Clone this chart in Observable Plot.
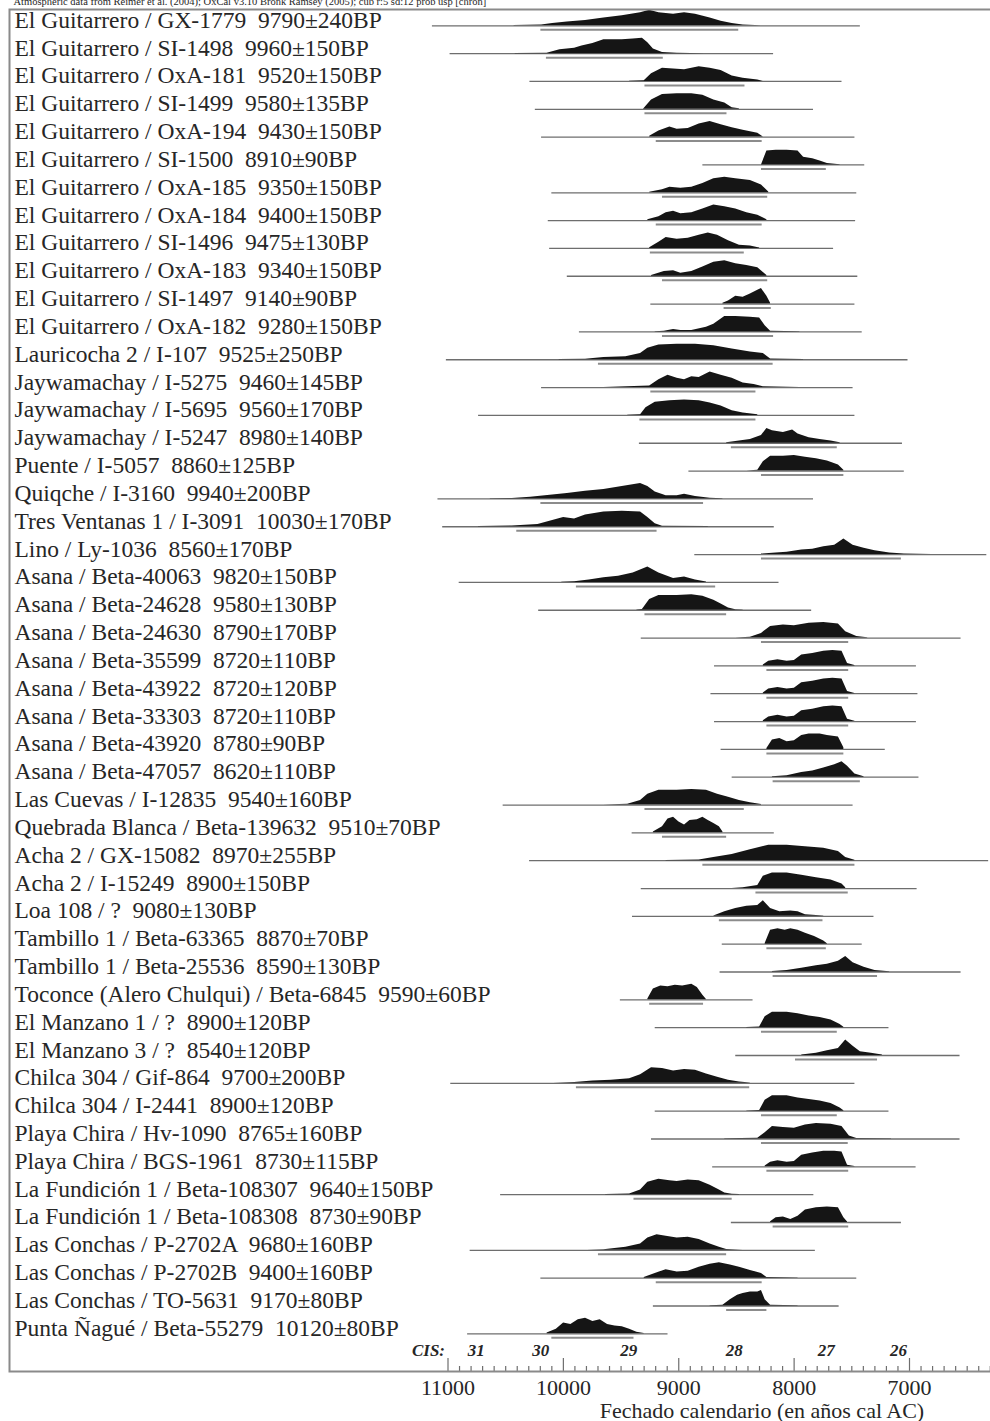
<!DOCTYPE html>
<html><head><meta charset="utf-8">
<script src="https://cdn.jsdelivr.net/npm/d3@7"></script>
<script src="https://cdn.jsdelivr.net/npm/@observablehq/plot@0.6"></script>
<style>
html,body{margin:0;padding:0;background:#fff;}
svg text{white-space:pre;}
</style></head><body><div id="chart"></div>
<script>
const header = "Atmospheric data from Reimer et al. (2004); OxCal v3.10 Bronk Ramsey (2005); cub r:5 sd:12 prob usp [chron]";
const xTitle = "Fechado calendario (en años cal AC)";
const labels = [
"El Guitarrero / GX-1779  9790±240BP","El Guitarrero / SI-1498  9960±150BP","El Guitarrero / OxA-181  9520±150BP",
"El Guitarrero / SI-1499  9580±135BP","El Guitarrero / OxA-194  9430±150BP","El Guitarrero / SI-1500  8910±90BP",
"El Guitarrero / OxA-185  9350±150BP","El Guitarrero / OxA-184  9400±150BP","El Guitarrero / SI-1496  9475±130BP",
"El Guitarrero / OxA-183  9340±150BP","El Guitarrero / SI-1497  9140±90BP","El Guitarrero / OxA-182  9280±150BP",
"Lauricocha 2 / I-107  9525±250BP","Jaywamachay / I-5275  9460±145BP","Jaywamachay / I-5695  9560±170BP",
"Jaywamachay / I-5247  8980±140BP","Puente / I-5057  8860±125BP","Quiqche / I-3160  9940±200BP",
"Tres Ventanas 1 / I-3091  10030±170BP","Lino / Ly-1036  8560±170BP","Asana / Beta-40063  9820±150BP",
"Asana / Beta-24628  9580±130BP","Asana / Beta-24630  8790±170BP","Asana / Beta-35599  8720±110BP",
"Asana / Beta-43922  8720±120BP","Asana / Beta-33303  8720±110BP","Asana / Beta-43920  8780±90BP",
"Asana / Beta-47057  8620±110BP","Las Cuevas / I-12835  9540±160BP","Quebrada Blanca / Beta-139632  9510±70BP",
"Acha 2 / GX-15082  8970±255BP","Acha 2 / I-15249  8900±150BP","Loa 108 / ?  9080±130BP",
"Tambillo 1 / Beta-63365  8870±70BP","Tambillo 1 / Beta-25536  8590±130BP","Toconce (Alero Chulqui) / Beta-6845  9590±60BP",
"El Manzano 1 / ?  8900±120BP","El Manzano 3 / ?  8540±120BP","Chilca 304 / Gif-864  9700±200BP",
"Chilca 304 / I-2441  8900±120BP","Playa Chira / Hv-1090  8765±160BP","Playa Chira / BGS-1961  8730±115BP",
"La Fundición 1 / Beta-108307  9640±150BP","La Fundición 1 / Beta-108308  8730±90BP","Las Conchas / P-2702A  9680±160BP",
"Las Conchas / P-2702B  9400±160BP","Las Conchas / TO-5631  9170±80BP","Punta Ñagué / Beta-55279  10120±80BP"];
// thin plotted range line (cal BC)
const lineFrom = [11135,10982,10290,10243,10189,8791,10100,10131,10119,9966,9242,9861,11014,10189,10735,9341,8912,11087,11046,8861,10903,10214,9325,8690,8721,8690,8633,8537,10522,9404,10293,9325,9401,8623,8642,9506,9204,8506,10976,9204,9236,8706,10544,8544,10808,10195,9220,10830];
const lineTo   = [7426,8178,7585,7832,7473,7388,7457,7467,7658,7448,7473,7410,7013,7489,7473,7061,7045,7832,8172,6330,8131,7848,6553,6940,6927,6940,7210,6918,7489,8172,6314,6934,7308,7410,6553,8356,7178,6562,7473,7178,6562,6943,7829,7070,7816,7457,7610,9093];
// 95.4% range bracket (cal BC)
const rangeFrom = [10195,10147,9293,9293,9195,8283,9141,9195,9246,9141,8607,9141,9696,9242,9337,8544,8283,10195,10404,8283,9887,9293,8283,8236,8236,8236,8236,8182,9293,9141,8791,8331,8648,8236,8182,9252,8283,7988,9887,8283,8283,8236,9388,8182,9696,9195,8585,10100];
const rangeTo   = [8480,9134,8426,8582,8277,7721,8229,8277,8432,8229,8198,8178,8182,8331,8331,7626,7569,8785,9188,7070,8680,8585,7527,7527,7527,7527,7569,7426,8432,8585,7473,7531,7750,7721,7277,8785,7626,7277,8385,7626,7531,7527,8537,7527,8585,8277,8236,9388];
// probability profiles: [cal BC, relative height 0-10]
const profiles = [
[[10427,0.2],[10189,0.5],[10093,1.5],[9966,2.5],[9808,3.5],[9649,5],[9490,6.5],[9331,8.5],[9252,10],[9172,8.5],[9045,7.5],[8950,8.5],[8855,7.5],[8728,5],[8633,3],[8537,1.5],[8442,0.5],[8283,0]],
[[10417,0.1],[10141,0.3],[10030,2.5],[9903,3.5],[9839,5],[9744,6.5],[9649,9],[9490,9],[9395,9.5],[9315,10],[9268,7],[9220,3],[9141,0.8],[9014,0.2],[8775,0]],
[[9426,0.1],[9299,0.5],[9236,5],[9141,8.5],[9045,8],[8950,7.5],[8823,9.5],[8728,8.5],[8633,7],[8537,3.5],[8442,2],[8315,1],[8267,0]],
[[9306,0],[9236,6],[9141,9.5],[9014,10],[8887,10],[8791,9],[8696,6],[8601,4],[8537,1],[8474,0.3]],
[[9252,0.5],[9172,4],[9077,6.5],[9014,5],[8918,5.5],[8823,8.5],[8728,10],[8633,8],[8537,6],[8442,4.5],[8315,2.5],[8267,0]],
[[8283,0],[8236,9],[8156,9.5],[8061,9.5],[7966,9],[7918,5],[7839,4],[7775,2.5],[7712,1],[7601,0.2]],
[[9252,0.3],[9141,2],[9077,3.5],[8982,3],[8887,3.5],[8791,6],[8696,9],[8601,10],[8506,9],[8379,8],[8283,5],[8220,0.5]],
[[9268,0.5],[9172,2.5],[9109,5],[9045,6],[8982,4.5],[8887,5],[8791,7.5],[8696,10],[8601,9],[8506,7.5],[8410,5],[8315,3.5],[8236,0.5]],
[[9252,0.5],[9172,4],[9109,7],[9014,6],[8918,6.5],[8823,8.5],[8744,10],[8664,8.5],[8569,5],[8474,2],[8379,1.5],[8299,0.3]],
[[9236,0.5],[9125,3],[9045,3.5],[8982,2],[8887,3],[8791,6],[8696,9],[8601,10],[8506,8],[8410,7],[8315,5.5],[8236,0.5]],
[[8617,0.5],[8569,2],[8506,5],[8442,4.5],[8379,6.5],[8315,9],[8283,10],[8236,5],[8204,0.5]],
[[9204,0.1],[9125,0.5],[9045,1.5],[8982,1],[8887,1],[8760,3],[8696,5],[8601,10],[8506,10],[8379,9.5],[8299,9],[8251,4],[8204,0.5],[7950,0.1]],
[[10036,0.1],[9808,0.3],[9649,1.5],[9458,2],[9331,4],[9268,7.5],[9172,9.5],[9014,10],[8855,10],[8696,9],[8537,7],[8379,5],[8267,4],[8204,0.5],[7918,0.1]],
[[9649,0.1],[9252,1],[9172,5],[9093,8],[9014,6],[8950,5],[8887,7],[8823,6.5],[8728,10],[8633,8],[8537,6],[8442,3],[8347,2],[8267,0.5],[7950,0.1]],
[[9442,0.1],[9331,0.5],[9284,5],[9204,8.5],[9077,9.5],[8950,10],[8823,9.5],[8728,8],[8633,6],[8537,3],[8442,1.5],[8315,0.5]],
[[8585,0.3],[8474,1.5],[8379,2.5],[8283,5],[8236,9.5],[8188,8],[8093,7],[8013,8.5],[7966,6],[7870,3.5],[7775,2.5],[7680,1.5],[7601,0.3]],
[[8410,0.1],[8315,0.5],[8267,6],[8204,9.5],[8093,9.5],[7998,10],[7902,9],[7807,8],[7712,6.5],[7616,4],[7569,0.5]],
[[10633,0.1],[10443,0.3],[10284,1],[10093,2.5],[9966,3.5],[9808,5],[9649,6],[9490,8],[9331,10],[9268,8],[9204,4.5],[9109,2],[9014,2],[8950,3],[8855,1.5],[8728,0.5],[8617,0.1]],
[[10735,0.1],[10443,0.5],[10220,1.5],[10093,4],[9998,6],[9903,5],[9808,7.5],[9649,9.5],[9490,10],[9331,9.5],[9268,6],[9204,2],[9141,0.3],[8744,0.1]],
[[8283,0.3],[8156,1],[8061,1.5],[7934,3],[7839,3.5],[7743,5],[7648,6],[7569,10],[7489,6],[7394,4],[7299,2.5],[7172,1],[7045,0.3],[6807,0.1]],
[[10014,0.1],[9903,0.5],[9776,1.5],[9649,3],[9522,4],[9395,6],[9268,10],[9172,6],[9045,2.5],[8950,3.5],[8855,1.5],[8760,0.3]],
[[9363,0.1],[9315,0.5],[9252,7],[9172,9.5],[9014,9.5],[8887,10],[8791,9],[8696,6.5],[8633,4],[8569,1.5],[8506,0.3],[8442,0.1]],
[[8506,0.1],[8379,0.5],[8283,3],[8204,7.5],[8093,8.5],[7998,8],[7870,9.5],[7743,10],[7616,9],[7553,4],[7457,1],[7362,0.2]],
[[8267,0.5],[8220,3],[8140,4],[8061,3],[7998,3.5],[7934,7],[7839,8],[7743,9.5],[7664,10],[7585,9.5],[7537,1.5],[7473,0.2]],
[[8267,0.5],[8220,3],[8140,4],[8061,3],[7998,3.5],[7934,7],[7839,8],[7743,9.5],[7664,10],[7585,9.5],[7537,1.5],[7473,0.2]],
[[8267,0.5],[8220,3],[8140,4],[8061,3],[7998,3.5],[7934,7],[7839,8],[7743,9.5],[7664,10],[7585,9.5],[7537,1.5],[7473,0.2]],
[[8236,0.5],[8188,6],[8124,7],[8061,5],[7998,5.5],[7934,9],[7870,10],[7775,10],[7712,9],[7616,8],[7569,1]],
[[8188,0.3],[8061,1],[7934,3],[7839,4],[7743,6],[7648,8],[7585,10],[7537,7],[7473,2],[7394,0.3]],
[[9649,0.1],[9442,0.5],[9331,3],[9268,7],[9172,9.5],[9014,9.5],[8887,10],[8760,9.5],[8664,7],[8569,5],[8474,3],[8379,1.5],[8283,0.3]],
[[9220,0.5],[9141,4],[9093,9],[9045,10],[8998,7],[8950,5],[8903,8],[8839,8.5],[8791,10],[8744,8],[8696,6],[8648,4],[8617,0.5]],
[[9109,0.1],[8823,0.5],[8696,2],[8537,4],[8379,7],[8220,10],[8061,10],[7902,9],[7743,8],[7616,6],[7553,2],[7473,0.3]],
[[8537,0.1],[8442,0.5],[8315,2],[8267,8],[8188,10],[8061,10],[7934,8.5],[7807,7],[7680,5.5],[7585,3],[7553,0.5]],
[[8696,0.3],[8601,3],[8506,5],[8410,6.5],[8315,7],[8267,10],[8204,5],[8124,3],[8029,3.5],[7966,3],[7902,1],[7743,0.2]],
[[8251,0.5],[8204,9],[8140,10],[8077,9],[8029,10],[7966,9],[7902,7],[7823,5],[7743,2],[7712,0.3]],
[[8188,0.3],[8061,1],[7934,2.5],[7807,4],[7712,5],[7616,7],[7553,10],[7489,6],[7394,3],[7299,1],[7172,0.2]],
[[9268,0.5],[9220,7],[9156,9],[9093,8.5],[9030,9.5],[8966,9],[8887,10],[8839,8],[8791,3],[8760,0.3]],
[[8410,0.1],[8299,0.5],[8251,7],[8188,10],[8061,10],[7966,9],[7870,7.5],[7775,6.5],[7680,5],[7601,2],[7569,0.3]],
[[7934,0.3],[7807,1.5],[7712,3],[7616,4.5],[7553,10],[7489,6],[7426,2.5],[7331,1.5],[7235,0.3]],
[[10084,0.1],[9903,0.5],[9744,1.5],[9585,2],[9426,3],[9331,5.5],[9236,10],[9141,9.5],[9045,8],[8950,9],[8855,8.5],[8760,6],[8664,4],[8569,2],[8474,0.8],[8379,0.3]],
[[8410,0.1],[8299,0.5],[8251,7],[8188,10],[8061,10],[7966,8.5],[7870,7.5],[7775,6.5],[7680,5],[7601,2],[7569,0.3]],
[[8601,0.1],[8315,0.5],[8251,4],[8188,8],[8093,7.5],[7998,7],[7902,9],[7807,10],[7680,9.5],[7585,8],[7521,2],[7457,0.3],[7156,0.1]],
[[8251,0.5],[8204,3],[8140,4],[8061,3],[7998,3.5],[7934,7.5],[7839,9],[7743,10],[7648,10],[7585,9.5],[7537,1],[7473,0.2]],
[[9633,0.1],[9426,0.5],[9331,3],[9268,8],[9172,10],[9077,9],[9014,8.5],[8918,9.5],[8823,9],[8728,6],[8648,3],[8601,1],[8537,0.3],[8474,0.1]],
[[8204,0.5],[8156,3],[8093,3.5],[8029,2],[7966,4],[7902,8],[7807,9.5],[7712,10],[7616,9.5],[7569,3],[7537,0.3]],
[[9792,0.1],[9649,0.3],[9458,2],[9331,4],[9268,8],[9188,10],[9109,9],[9014,8],[8918,8.5],[8823,7],[8728,4],[8648,2],[8585,0.5],[8442,0.1]],
[[9299,0.5],[9204,3],[9109,5.5],[9014,4],[8918,4.5],[8823,7],[8728,9],[8648,10],[8553,8.5],[8474,7],[8379,5],[8283,3],[8236,0.5],[7966,0.1]],
[[8728,0.1],[8617,0.5],[8553,4],[8490,7],[8442,8],[8379,9],[8315,9],[8283,10],[8251,4],[8204,0.5],[7966,0.1]],
[[10141,0.5],[10061,3],[9998,7],[9935,6],[9871,9],[9808,10],[9744,8],[9681,9],[9617,6],[9553,5],[9490,4.5],[9426,3],[9363,1],[9299,0.2]]
];
const axisLabels = [11000, 10000, 9000, 8000, 7000];
const cisNames = ["31","30","29","28","27","26"];
const cisYears = [10755, 10196, 9433, 8518, 7722, 7095];

const rows = labels.map((label, i) => ({i, label, from: lineFrom[i], to: lineTo[i], r0: rangeFrom[i], r1: rangeTo[i]}));
const pts = profiles.flatMap((p, i) => p.map(([year, h]) => ({i, year, h})));
const ROW_PX = 27.83, PEAK_PX = 15.5;
const hk = PEAK_PX / ROW_PX / 10;
const majorTicks = d3.range(11000, 6250, -1000);
const minorTicks = d3.range(11000, 6250, -100).filter(v => v % 1000 !== 0);
const FRAME_H = 1421 - 50 - 9;

const chart = Plot.plot({
  width: 990, height: 1421,
  marginTop: 9, marginBottom: 50, marginLeft: 9, marginRight: 0,
  style: {fontFamily: "'Liberation Serif', 'Times New Roman', serif", background: "#fff", color: "#262626"},
  x: {domain: [11000, 7000], range: [447.5, 909], axis: null},
  y: {domain: [0, labels.length - 1], range: [25.3, 25.3 + ROW_PX * (labels.length - 1)], axis: null},
  marks: [
    Plot.ruleY(rows, {y: "i", x1: "from", x2: "to", stroke: "#6e6e6e", strokeWidth: 1.3}),
    Plot.areaY(pts, {x: "year", y1: "i", y2: d => d.i - d.h * hk, z: "i", fill: "#151515"}),
    Plot.ruleY(rows, {y: "i", x1: "r0", x2: "r1", dy: 4, stroke: "#8c8c8c", strokeWidth: 2}),
    Plot.text(rows, {y: "i", text: "label", frameAnchor: "left", dx: 5, dy: 2, textAnchor: "start", lineAnchor: "bottom", fontSize: 23.5, fill: "#262626"}),
    Plot.ruleX(minorTicks, {x: d => d, insetTop: FRAME_H - 5, stroke: "#6e6e6e", strokeWidth: 1.2}),
    Plot.ruleX(majorTicks, {x: d => d, insetTop: FRAME_H - 13, stroke: "#6e6e6e", strokeWidth: 1.2}),
    Plot.frame({stroke: "#8a8a8a", strokeWidth: 2, insetRight: -10}),
    Plot.text(axisLabels, {x: d => d, text: d => String(d), frameAnchor: "bottom", lineAnchor: "bottom", dy: 23, fontSize: 22, fill: "#262626"}),
    Plot.text([xTitle], {frameAnchor: "bottom", dx: 262, dy: 46, lineAnchor: "bottom", fontSize: 22, fill: "#262626"}),
    Plot.text(cisNames, {x: cisYears, text: d => d, frameAnchor: "bottom", lineAnchor: "bottom", dy: -16, fontSize: 17, fontWeight: "bold", fontStyle: "italic", fill: "#262626"}),
    Plot.text(["CIS:"], {x: [11000], text: d => d, frameAnchor: "bottom", lineAnchor: "bottom", textAnchor: "end", dx: -3, dy: -16, fontSize: 17, fontWeight: "bold", fontStyle: "italic", fill: "#262626"}),
    Plot.text([header], {frameAnchor: "top-left", dx: 4, dy: -5, lineAnchor: "bottom", textAnchor: "start", fontSize: 10.5, fill: "#262626"})
  ]
});
document.getElementById("chart").appendChild(chart);
</script></body></html>
